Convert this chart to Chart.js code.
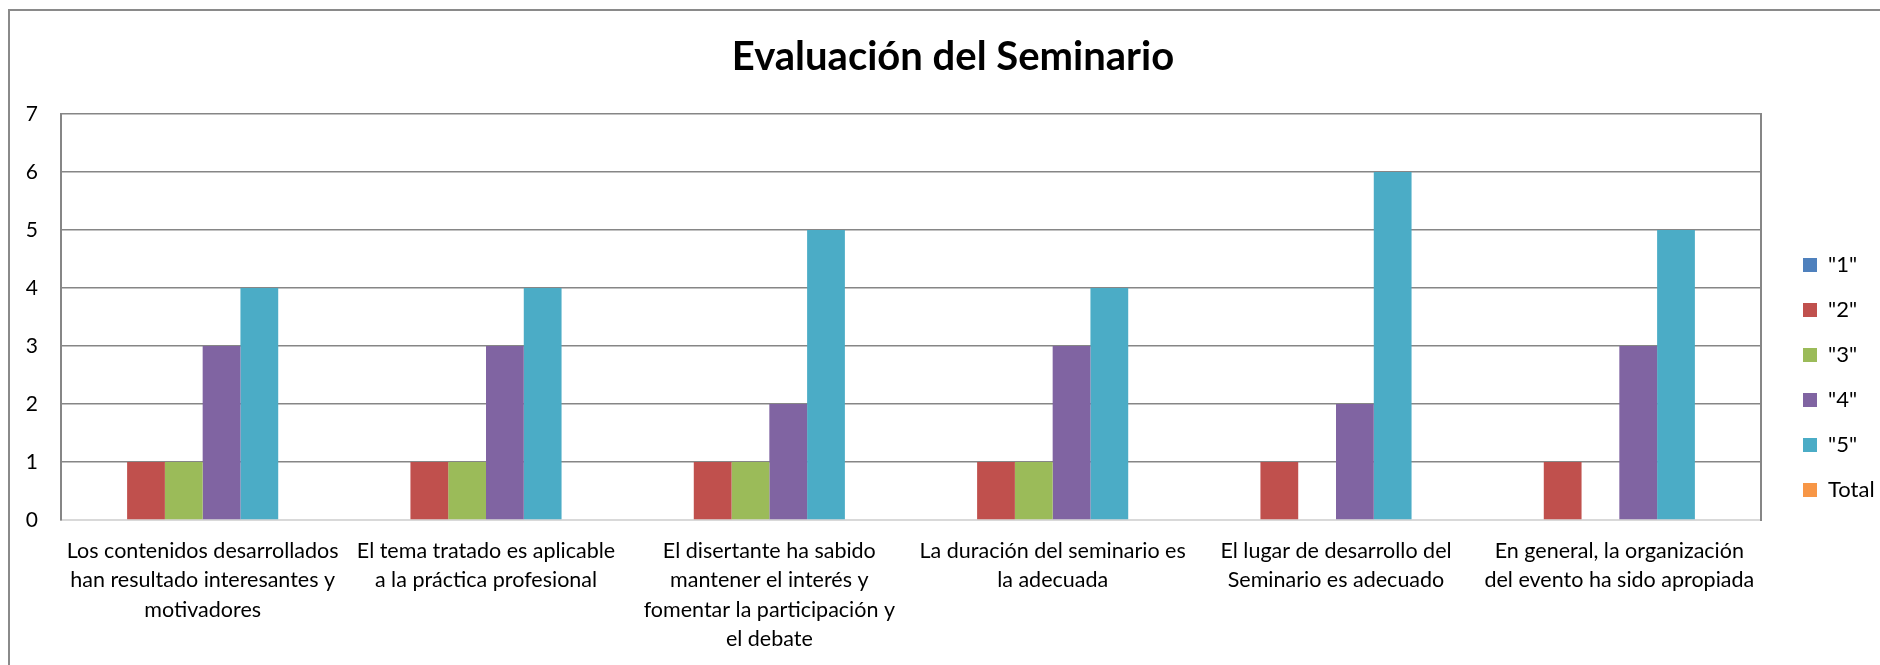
<!DOCTYPE html>
<html>
<head>
<meta charset="utf-8">
<script src="https://cdn.jsdelivr.net/npm/chart.js@4"></script>
<style>
  html, body { margin: 0; padding: 0; background: #fff; overflow: hidden; }
  #frame { position: absolute; left: 8px; top: 9px; width: 2000px; height: 1000px; border: 2px solid #8a8a8a; box-sizing: border-box; }
  #c { position: absolute; left: 0; top: 0; }
</style>
</head>
<body>
<div id="frame"></div>
<canvas id="c" width="1880" height="665"></canvas>
<script>
const categories = [
  ["Los contenidos desarrollados", "han resultado interesantes y", "motivadores"],
  ["El tema tratado es aplicable", "a la práctica profesional"],
  ["El disertante ha sabido", "mantener el interés y", "fomentar la participación y", "el debate"],
  ["La duración del seminario es", "la adecuada"],
  ["El lugar de desarrollo del", "Seminario es adecuado"],
  ["En general, la organización", "del evento ha sido apropiada"]
];
const seriesNames = ['"1"', '"2"', '"3"', '"4"', '"5"', 'Total'];
const s1 = [0, 0, 0, 0, 0, 0];
const s2 = [1, 1, 1, 1, 1, 1];
const s3 = [1, 1, 1, 1, 0, 0];
const s4 = [3, 3, 2, 3, 2, 3];
const s5 = [4, 4, 5, 4, 6, 5];
const sTotal = [0, 0, 0, 0, 0, 0];
const yTicks = [0, 1, 2, 3, 4, 5, 6, 7];
const colors = ['#4F81BD', '#C0504D', '#9BBB59', '#8064A2', '#4BACC6', '#F79646'];
const title = 'Evaluación del Seminario';

const FONT = 'Lato, "Open Sans", sans-serif';
const seriesValues = [s1, s2, s3, s4, s5, sTotal];

const legendPlace = {
  id: 'legendPlace',
  beforeLayout(chart) {
    const l = chart.legend;
    if (l && !l.__patched) {
      const f = l.fit;
      l.fit = function () { f.call(this); this.width = 119; };
      l.__patched = true;
    }
  },
  afterLayout(chart) {
    const l = chart.legend;
    if (l) {
      const h = l.bottom - l.top, w = l.right - l.left;
      l.left = 1780; l.right = 1780 + w;
      l.top = 231; l.bottom = 231 + h;
    }
    const t = chart.titleBlock;
    if (t) { t.left += 13; t.right += 13; }
  }
};

new Chart(document.getElementById('c'), {
  type: 'bar',
  data: {
    labels: categories,
    datasets: seriesNames.map((n, i) => ({
      label: n,
      data: seriesValues[i],
      backgroundColor: colors[i],
      borderWidth: 0,
      barPercentage: 1,
      categoryPercentage: 0.8
    }))
  },
  options: {
    responsive: false,
    animation: false,
    devicePixelRatio: 1,
    layout: { padding: { left: 0, right: 0, top: 0, bottom: 0 } },
    plugins: {
      title: {
        display: true,
        text: title,
        color: '#000',
        font: { family: FONT, size: 40, weight: 'bold', lineHeight: 1.2 },
        padding: { top: 33, bottom: 33 }
      },
      legend: {
        position: 'right',
        align: 'start',
        labels: {
          boxWidth: 14,
          boxHeight: 14,
          padding: 23,
          color: '#000',
          font: { family: FONT, size: 22 }
        }
      },
      tooltip: { enabled: false }
    },
    scales: {
      x: {
        grid: { display: false },
        border: { display: true, color: '#d9d9d9', width: 2 },
        ticks: {
          color: '#000',
          font: { family: FONT, size: 21.5, lineHeight: 1.35 },
          padding: 9,
          maxRotation: 0,
          minRotation: 0,
          autoSkip: false
        },
        afterFit(s) { s.height = 145; }
      },
      y: {
        min: 0,
        max: 7,
        afterBuildTicks(s) { s.ticks = yTicks.map(v => ({ value: v })); },
        grid: {
          drawTicks: false,
          color: ctx => ctx.tick && ctx.tick.value === 0 ? 'rgba(0,0,0,0)' : '#868686',
          lineWidth: 1.6
        },
        border: { display: true, color: '#868686', width: 2 },
        ticks: {
          color: '#000',
          font: { family: FONT, size: 21 },
          padding: 23
        },
        afterFit(s) { s.width = 61; }
      },
      y2: {
        position: 'right',
        display: true,
        grid: { display: false, drawTicks: false },
        border: { display: true, color: '#868686', width: 2 },
        ticks: { display: false },
        afterFit(s) { s.width = 0; }
      }
    }
  },
  plugins: [legendPlace]
});
</script>
</body>
</html>
